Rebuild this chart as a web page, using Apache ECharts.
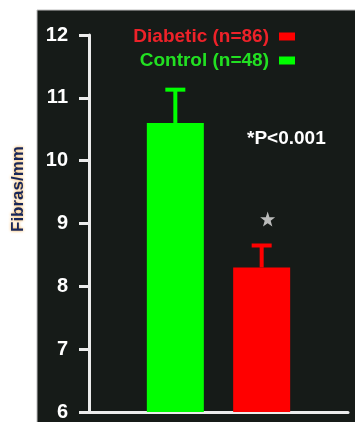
<!DOCTYPE html>
<html>
<head>
<meta charset="utf-8">
<script src="https://cdn.jsdelivr.net/npm/echarts@6/dist/echarts.min.js"></script>
<style>
html,body{margin:0;padding:0;background:#ffffff;}
#chart{width:355px;height:422px;}
</style>
</head>
<body>
<div id="chart"></div>
<script>
// ---- data ----
const categories = ['Control (n=48)', 'Diabetic (n=86)'];
const positions = [1, 2];
const means = [10.6, 8.3];
const upperError = [11.13, 8.65];
const colors = ['#00ff00', '#ff0000'];
const yMin = 6, yMax = 12, yStep = 1;
const significance = [[2, 9.07]];
const pValueText = '*P<0.001';
const yAxisTitle = 'Fibras/mm';
const legendOrder = ['Diabetic (n=86)', 'Control (n=48)'];
const legendTextColors = {'Diabetic (n=86)': '#ee2229', 'Control (n=48)': '#22e022'};

const FONT = '"Liberation Sans", Arial, sans-serif';
const chart = echarts.init(document.getElementById('chart'), null, {renderer: 'canvas'});

const barSeries = categories.map((name, i) => ({
  name: name,
  type: 'bar',
  data: [[positions[i], means[i]]],
  barWidth: 57,
  barGap: '-100%',
  itemStyle: {color: colors[i]},
  z: 2
}));

const errorData = categories.map((c, i) => [positions[i], means[i], upperError[i], i]);

const legends = legendOrder.map((name, k) => ({
  data: [{name: name, textStyle: {color: legendTextColors[name]}}],
  right: 55,
  top: 22 + k * 24,
  align: 'right',
  itemWidth: 16,
  itemHeight: 8,
  icon: 'rect',
  selectedMode: false,
  textStyle: {fontFamily: FONT, fontWeight: 'bold', fontSize: 19, padding: [0, 5, 0, 0]}
}));

chart.setOption({
  animation: false,
  backgroundColor: '#ffffff',
  graphic: [
    {type: 'rect', z: -10, shape: {x: 37, y: 10, width: 330, height: 420},
     style: {fill: '#161b18', stroke: '#bdbdbd', lineWidth: 1}},
    {type: 'text', x: 18, y: 189, rotation: Math.PI / 2, z: 10,
     style: {text: yAxisTitle, fill: '#17265a', font: 'bold 17px ' + FONT,
       textAlign: 'center', textVerticalAlign: 'middle',
       textShadowColor: '#f5a535', textShadowBlur: 3, textShadowOffsetY: 0}},
    {type: 'text', left: 247, top: 129, z: 10,
     style: {text: pValueText, fill: '#ffffff', font: 'bold 19px ' + FONT}}
  ],
  legend: legends,
  grid: {left: 89, right: 7, top: 35, bottom: 8, containLabel: false},
  xAxis: {
    type: 'value', min: 0, max: 3,
    axisLine: {show: true, onZero: false, lineStyle: {color: '#ececec', width: 3}},
    axisTick: {show: false}, axisLabel: {show: false}, splitLine: {show: false}
  },
  yAxis: {
    type: 'value', min: yMin, max: yMax, interval: yStep,
    axisLine: {show: true, lineStyle: {color: '#ececec', width: 3}},
    axisTick: {show: true, inside: false, length: 10, lineStyle: {color: '#ececec', width: 3}},
    axisLabel: {color: '#ffffff', fontFamily: FONT, fontWeight: 'bold', fontSize: 20, margin: 21},
    splitLine: {show: false}
  },
  series: barSeries.concat([
    {
      type: 'custom',
      name: 'error',
      data: errorData,
      encode: {x: 0, y: 2},
      z: 3,
      renderItem: function (params, api) {
        const x = api.value(0);
        const lo = api.coord([x, api.value(1)]);
        const hi = api.coord([x, api.value(2)]);
        const col = colors[api.value(3)];
        return {
          type: 'group',
          children: [
            {type: 'line', shape: {x1: lo[0], y1: lo[1], x2: hi[0], y2: hi[1]},
             style: {stroke: col, lineWidth: 4}},
            {type: 'line', shape: {x1: hi[0] - 10, y1: hi[1], x2: hi[0] + 10, y2: hi[1]},
             style: {stroke: col, lineWidth: 4}}
          ]
        };
      }
    },
    {
      type: 'scatter',
      name: 'sig',
      data: significance,
      symbol: 'path://M50,0 L62,35 L100,36 L70,58 L81,95 L50,73 L19,95 L30,58 L0,36 L38,35 Z',
      symbolSize: 15,
      symbolOffset: [6, 0],
      itemStyle: {color: '#e4e4e4'},
      z: 4
    }
  ])
});
</script>
</body>
</html>
